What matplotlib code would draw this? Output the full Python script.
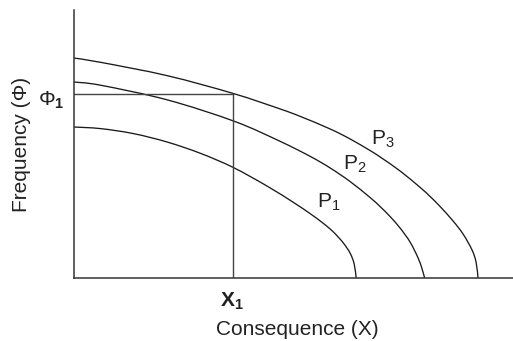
import matplotlib
matplotlib.use("Agg")
import matplotlib.pyplot as plt
from matplotlib.path import Path
from matplotlib.patches import PathPatch

plt.rcParams.update({"font.family": "Liberation Sans", "mathtext.fontset": "custom",
                     "mathtext.rm": "Liberation Sans", "mathtext.it": "Liberation Sans:italic",
                     "mathtext.bf": "Liberation Sans:bold"})

# iso-risk curves: consequence (x) vs frequency (y), arbitrary units
p1_x = [0, 27, 60, 94, 127, 160, 194, 220, 237, 250, 260, 270, 277, 281, 283]
p1_y = [151, 149.4, 144.4, 135.9, 124.7, 110.5, 91.8, 75.7, 64.3, 54.7, 46.2, 35.2, 24.7, 14, 0]
p2_x = [0, 27, 94, 161, 207, 237, 257, 277, 297, 307, 317, 327, 337, 345, 349, 351.5]
p2_y = [196, 192.8, 178.1, 156.7, 136.6, 121.6, 110, 96.4, 80.4, 71.4, 61.4, 49.9, 35.9, 20, 9, 0]
p3_x = [0, 27, 94, 160, 207, 227, 257, 277, 297, 307, 327, 347, 357, 367, 380, 390, 399, 403, 405]
p3_y = [220, 215.7, 202.3, 184.5, 169, 161.6, 149, 139, 127.4, 121, 107, 90.6, 81.5, 71.5,
        57, 44, 28, 16, 0]
X1 = 160
PHI1 = 184


def smooth_path(xs, ys):
    # Catmull-Rom through the points, emitted as cubic Bezier segments
    pts = list(zip(xs, ys))
    n = len(pts)
    verts = [pts[0]]
    codes = [Path.MOVETO]
    for i in range(n - 1):
        p0 = pts[max(i - 1, 0)]
        p1 = pts[i]
        p2 = pts[i + 1]
        p3 = pts[min(i + 2, n - 1)]
        c1 = (p1[0] + (p2[0] - p0[0]) / 6, p1[1] + (p2[1] - p0[1]) / 6)
        c2 = (p2[0] - (p3[0] - p1[0]) / 6, p2[1] - (p3[1] - p1[1]) / 6)
        verts += [c1, c2, p2]
        codes += [Path.CURVE4] * 3
    return Path(verts, codes)


fig = plt.figure(figsize=(5.13, 3.41), dpi=100)
ax = fig.add_axes([73.5 / 513, 63 / 341, 439.5 / 513, 268 / 341])
ax.set_xlim(0, 440)
ax.set_ylim(0, 268)

for xs, ys in [(p1_x, p1_y), (p2_x, p2_y), (p3_x, p3_y)]:
    ax.add_patch(PathPatch(smooth_path(xs, ys), facecolor="none", edgecolor="#1a1a1a",
                           lw=0.95, capstyle="butt"))

# reference point (X1, Phi1)
ax.plot([X1, X1], [0, PHI1], color="#444444", lw=1.0)
ax.plot([0, X1], [PHI1, PHI1], color="#444444", lw=1.0)

for s in ["top", "right"]:
    ax.spines[s].set_visible(False)
for s in ["left", "bottom"]:
    ax.spines[s].set_color("#333333")
    ax.spines[s].set_linewidth(1.1)
ax.set_xticks([])
ax.set_yticks([])

fs = 15
ax.text(297.5, 133, r"P$_3$", fontsize=fs, va="baseline", ha="left", color="#222")
ax.text(269.5, 108, r"P$_2$", fontsize=fs, va="baseline", ha="left", color="#222")
ax.text(243.5, 70, r"P$_1$", fontsize=fs, va="baseline", ha="left", color="#222")

ax.text(X1 - 1, -29, r"$\mathbf{X_1}$", fontsize=fs, va="baseline", ha="center",
        color="#222", clip_on=False)
ax.text(-22.5, PHI1 - 12, r"$\Phi_{\mathbf{1}}$", fontsize=fs, va="baseline", ha="center",
        color="#222", clip_on=False)

fig.text(297.5 / 513, 1 - 335 / 341, "Consequence (X)", fontsize=fs, ha="center",
         va="baseline", color="#222")
fig.text(22 / 513, 1 - 144.5 / 341, "Frequency (\u03a6)", fontsize=fs, ha="center",
         va="center", rotation=90, color="#222")

fig.savefig("out.png", dpi=100)
